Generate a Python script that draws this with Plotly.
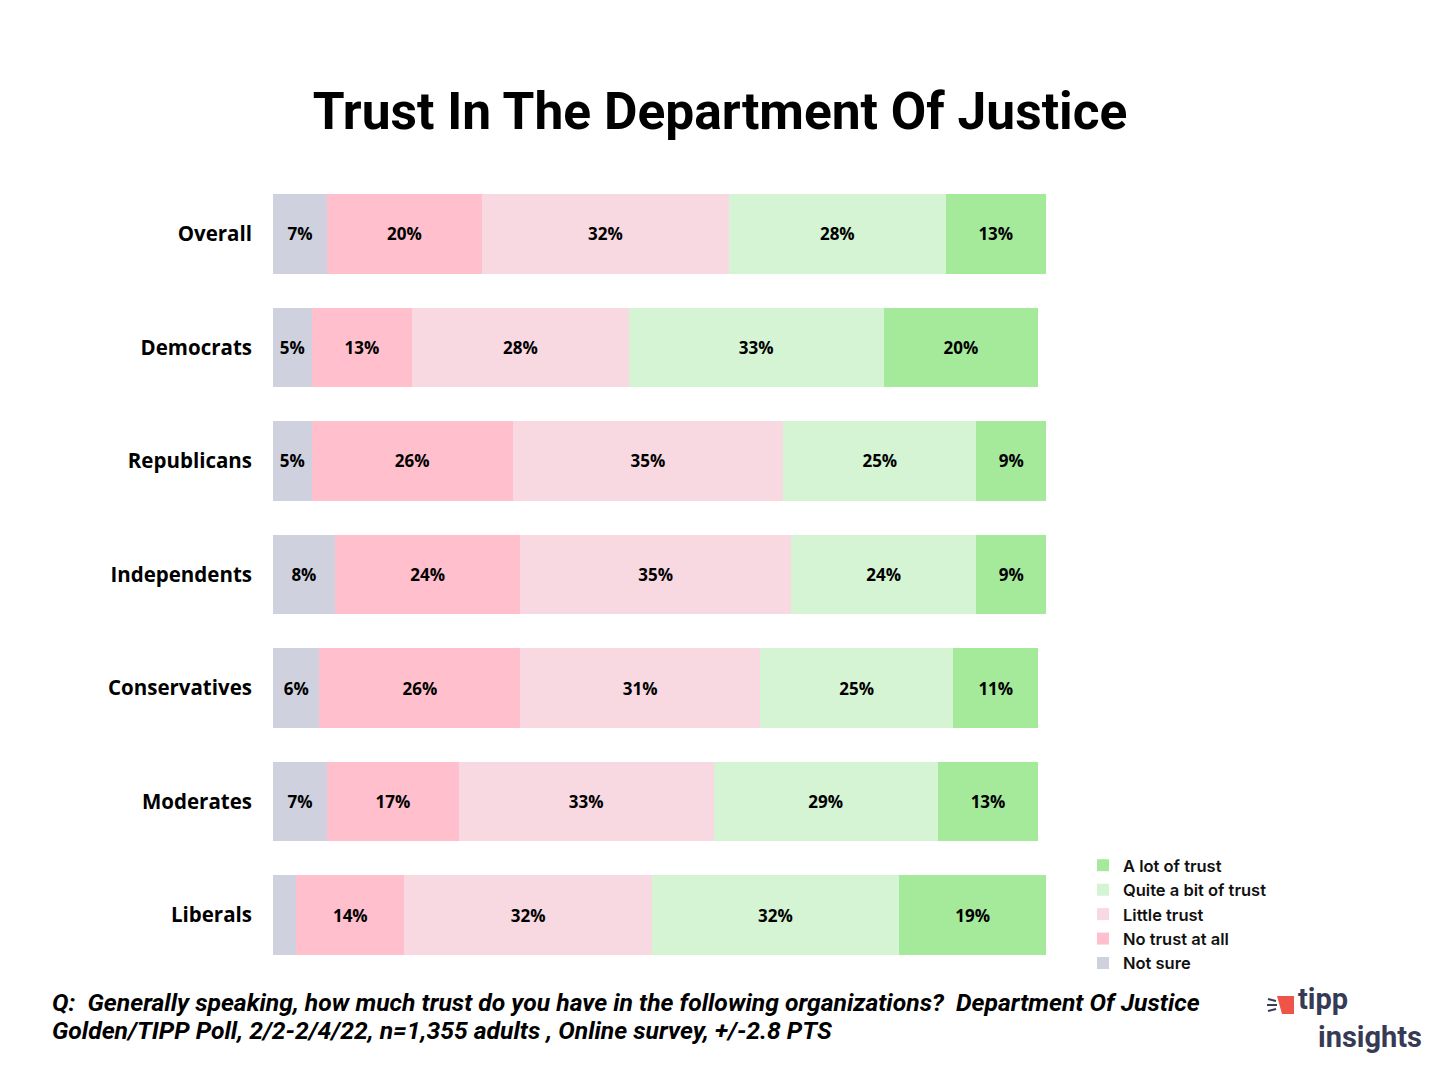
import plotly.graph_objects as go

groups = ["Overall", "Democrats", "Republicans", "Independents", "Conservatives", "Moderates", "Liberals"]
not_sure = [7, 5, 5, 8, 6, 7, 3]
no_trust = [20, 13, 26, 24, 26, 17, 14]
little_trust = [32, 28, 35, 35, 31, 33, 32]
quite_a_bit = [28, 33, 25, 24, 25, 29, 32]
a_lot = [13, 20, 9, 9, 11, 13, 19]

series = [
    ("Not sure", not_sure, "#CFD2DE"),
    ("No trust at all", no_trust, "#FFBFCD"),
    ("Little trust", little_trust, "#F8D8E1"),
    ("Quite a bit of trust", quite_a_bit, "#D5F4D3"),
    ("A lot of trust", a_lot, "#A5E99B"),
]

W, H = 1440, 1080
OFF = 8  # page offset of the plot inside the browser
L, R, T, B = 273 - OFF, 1046 - OFF, 177 - OFF, 972 - OFF


def px(x):
    return (x - OFF - L) / (R - L)


def py(y):
    return (B - (y - OFF)) / (B - T)


fig = go.Figure()
for name, vals, color in series:
    fig.add_trace(go.Bar(
        name=name,
        y=groups,
        x=vals,
        orientation="h",
        marker=dict(color=color, line=dict(width=0)),
        text=[f"{v}%" if v >= 4 else "" for v in vals],
        textposition="inside",
        insidetextanchor="middle",
        textangle=0,
        constraintext="none",
        textfont=dict(family="Open Sans", size=17, color="#000000", weight="bold"),
        hoverinfo="skip",
    ))

fig.update_layout(
    width=W, height=H,
    barmode="stack",
    bargap=0.3,
    plot_bgcolor="white",
    paper_bgcolor="white",
    margin=dict(l=L, r=W - R, t=T, b=H - B, pad=0),
    title=dict(
        text="<b>Trust In The Department Of Justice</b>",
        x=(720 - OFF) / W, xanchor="center", xref="container",
        y=1 - (111 - OFF) / H, yanchor="middle", yref="container",
        font=dict(family="Roboto", size=51.5, color="#000000"),
    ),
    xaxis=dict(range=[0, 100], visible=False, fixedrange=True),
    yaxis=dict(
        autorange="reversed",
        showgrid=False, zeroline=False, showline=False,
        ticks="", ticklabelstandoff=20,
        tickfont=dict(family="Open Sans", size=20.5, color="#000000", weight="bold"),
    ),
    legend=dict(
        x=px(1083), y=py(848), xanchor="left", yanchor="top",
        traceorder="reversed",
        font=dict(family="Inter", size=16.5, color="#111111", weight=600),
        itemwidth=30, tracegroupgap=0,
        bgcolor="rgba(0,0,0,0)",
    ),
    showlegend=True,
)

footer_font = dict(family="Roboto", size=24.7, color="#000000")
fig.add_annotation(
    text="<b><i>Q:  Generally speaking, how much trust do you have in the following organizations?  Department Of Justice</i></b>",
    xref="paper", yref="paper", x=px(50), y=py(1002), xanchor="left", yanchor="middle",
    showarrow=False, font=footer_font,
)
fig.add_annotation(
    text="<b><i>Golden/TIPP Poll, 2/2-2/4/22, n=1,355 adults , Online survey, +/-2.8 PTS</i></b>",
    xref="paper", yref="paper", x=px(50), y=py(1030), xanchor="left", yanchor="middle",
    showarrow=False, font=footer_font,
)

# logo
navy = "#363A55"
fig.add_shape(type="path",
              path=f"M {px(1277)} {py(996)} L {px(1294)} {py(996)} L {px(1294)} {py(1014)} L {px(1282)} {py(1014)} Z",
              xref="paper", yref="paper", fillcolor="#EE5548", line=dict(width=0))
for (x0, y0, x1, y1) in [(1268, 999, 1276, 1001), (1267, 1005, 1277, 1005), (1268, 1011, 1276, 1009)]:
    fig.add_shape(type="line", x0=px(x0), y0=py(y0), x1=px(x1), y1=py(y1),
                  xref="paper", yref="paper", line=dict(color=navy, width=2))
fig.add_annotation(text="<b>tipp</b>", xref="paper", yref="paper", x=px(1296), y=py(999),
                   xanchor="left", yanchor="middle", showarrow=False,
                   font=dict(family="Roboto", size=29, color=navy))
fig.add_annotation(text="<b>insights</b>", xref="paper", yref="paper", x=px(1424), y=py(1037),
                   xanchor="right", yanchor="middle", showarrow=False,
                   font=dict(family="Roboto", size=29, color=navy))

fig.write_html("out.html")
